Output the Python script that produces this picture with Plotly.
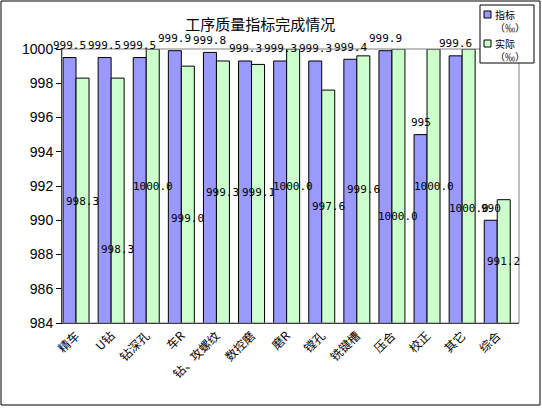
import plotly.graph_objects as go

# process names and quality figures (per mille)
processes = ['精车', 'U钻', '钻深孔', '车R', '钻、攻螺纹', '数控磨', '磨R',
             '镗孔', '铣键槽', '压合', '校正', '其它', '综合']
target = [999.5, 999.5, 999.5, 999.9, 999.8, 999.3, 999.3,
          999.3, 999.4, 999.9, 995, 999.6, 990]
actual = [998.3, 998.3, 1000.0, 999.0, 999.3, 999.1, 1000.0,
          997.6, 999.6, 1000.0, 1000.0, 1000.0, 991.2]
target_text = ['999.5', '999.5', '999.5', '999.9', '999.8', '999.3', '999.3',
               '999.3', '999.4', '999.9', '995', '999.6', '990']
actual_text = ['%.1f' % v for v in actual]
y_ticks = [984, 986, 988, 990, 992, 994, 996, 998, 1000]

W, H = 542, 408
L, R, T, B = 62, 23, 49, 85
PW, PH = W - L - R, H - T - B


def px(x):
    return (x - L) / PW


def py(y):
    return (H - B - y) / PH


mono = dict(family='DejaVu Sans Mono', size=11, color='black')
cjk = 'Noto Sans CJK SC'

fig = go.Figure()
fig.add_trace(go.Bar(x=processes, y=target, name='指标',
                     marker=dict(color='#9999FF', line=dict(color='black', width=1))))
fig.add_trace(go.Bar(x=processes, y=actual, name='实际',
                     marker=dict(color='#CCFFCC', line=dict(color='black', width=1))))

# Excel-style labels: targets just above their bars, actuals scattered mid-plot
actual_label_y = [991.1, 988.3, 992.0, 990.1, 991.6, 991.6, 992.0,
                  990.8, 991.8, 990.2, 992.0, 990.7, 987.6]
annotations = []
for i, p in enumerate(processes):
    annotations.append(dict(x=p, y=target[i], text=target_text[i], xshift=-6.5,
                            yshift=12, showarrow=False, font=mono))
    annotations.append(dict(x=p, y=actual_label_y[i], text=actual_text[i],
                            xshift=6.5, showarrow=False, font=mono))

# hand-made legend box
legend_items = [('指标', '#9999FF', 5), ('实际', '#CCFFCC', 34)]
shapes = [
    dict(type='rect', xref='paper', yref='paper', x0=0, x1=1, y0=0, y1=1,
         line=dict(color='#808080', width=1)),
    dict(type='rect', xref='paper', yref='paper', x0=px(1), x1=px(540),
         y0=py(1), y1=py(405), line=dict(color='black', width=1)),
    dict(type='rect', xref='paper', yref='paper', x0=px(480), x1=px(534),
         y0=py(5), y1=py(63), line=dict(color='black', width=1),
         fillcolor='white'),
]
for name, color, top in legend_items:
    shapes.append(dict(type='rect', xref='paper', yref='paper',
                       x0=px(484), x1=px(491), y0=py(top + 6), y1=py(top + 13),
                       line=dict(color='black', width=1), fillcolor=color))
    annotations.append(dict(xref='paper', yref='paper', x=px(493), y=py(top),
                            xanchor='left', yanchor='top', align='left',
                            text=name + '<br>（‰）', showarrow=False,
                            font=dict(family=cjk, size=10, color='black')))

fig.update_layout(
    width=W, height=H,
    margin=dict(l=L, r=R, t=T, b=B),
    paper_bgcolor='white', plot_bgcolor='white',
    showlegend=False,
    barmode='group', bargap=0.26, bargroupgap=0,
    title=dict(text='工序质量指标完成情况', x=0.48, xanchor='center',
               y=1 - 25 / H, yanchor='middle',
               font=dict(family=cjk, size=15, color='black')),
    xaxis=dict(range=[-0.4, 12.62], showline=True, linecolor='black',
               linewidth=1, tickangle=-45, ticks='',
               tickfont=dict(family=cjk, size=12, color='black')),
    yaxis=dict(range=[984, 1000], tickvals=y_ticks, showline=True,
               linecolor='black', linewidth=1, ticks='outside', ticklen=5,
               tickcolor='black', showgrid=False, zeroline=False,
               tickfont=dict(family='Liberation Sans', size=14, color='black')),
    shapes=shapes,
    annotations=annotations,
)

# drop the browser's default body margin so the chart sits at the page corner
fig.write_html('out.html', config={'displayModeBar': False},
               post_script="document.body.style.margin='0';")
